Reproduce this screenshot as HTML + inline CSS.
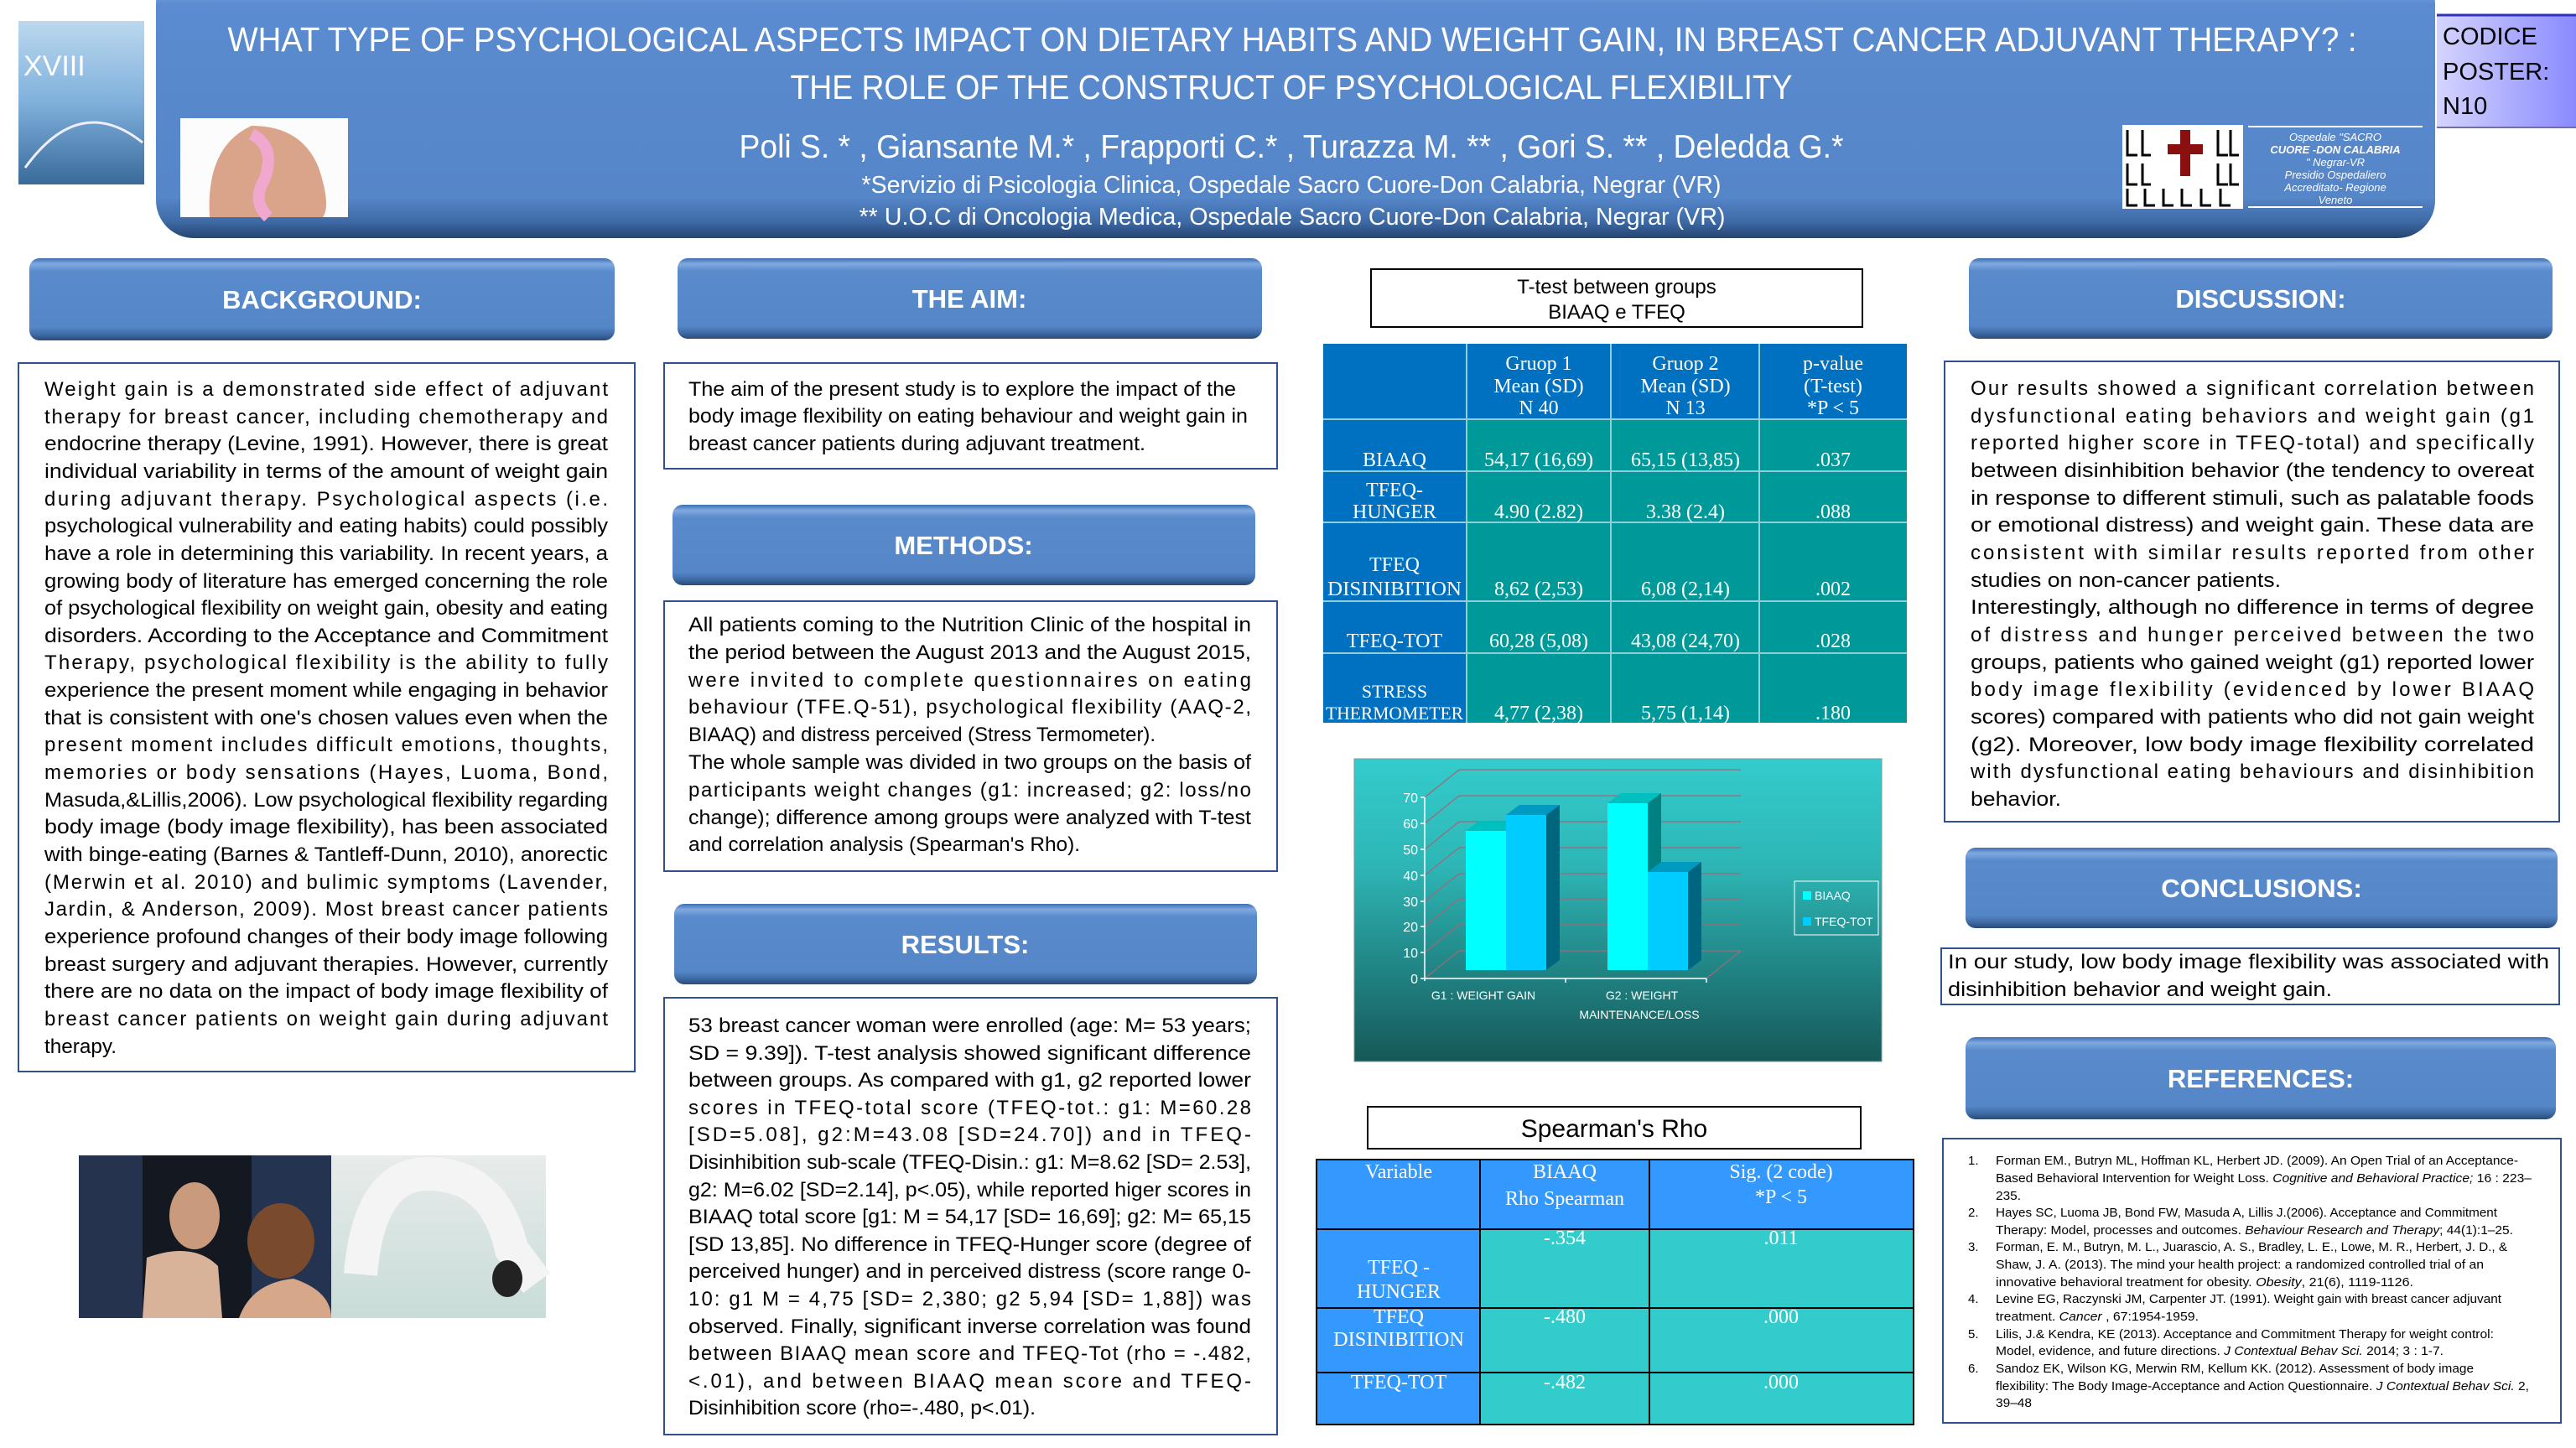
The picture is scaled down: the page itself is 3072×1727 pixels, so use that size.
<!DOCTYPE html>
<html><head><meta charset="utf-8"><style>
html,body{margin:0;padding:0;background:#fff;}
svg{display:block;}
.b{font-family:"Liberation Sans",sans-serif;font-size:24px;fill:#000;}
.h{font-family:"Liberation Sans",sans-serif;font-size:31px;font-weight:bold;fill:#fff;text-anchor:middle;}
.t{font-family:"Liberation Serif",serif;font-size:24px;fill:#fff;text-anchor:middle;}
.r{font-family:"Liberation Sans",sans-serif;font-size:15px;fill:#000;}
.w{font-family:"Liberation Sans",sans-serif;fill:#fff;text-anchor:middle;}
</style></head><body>
<svg width="3072" height="1727" viewBox="0 0 3072 1727" xmlns="http://www.w3.org/2000/svg">
<defs>
<linearGradient id="hg" x1="0" y1="0" x2="0" y2="1">
<stop offset="0" stop-color="#3d6fb3"/><stop offset="0.06" stop-color="#8db6ec"/><stop offset="0.14" stop-color="#5b8bd0"/>
<stop offset="0.85" stop-color="#5586c8"/><stop offset="0.94" stop-color="#3e6aa6"/><stop offset="1" stop-color="#25456f"/></linearGradient>
<linearGradient id="sg" x1="0" y1="0" x2="0" y2="1">
<stop offset="0" stop-color="#3d6fb3"/><stop offset="0.07" stop-color="#80a9e0"/><stop offset="0.16" stop-color="#598bcc"/>
<stop offset="0.84" stop-color="#5586c8"/><stop offset="0.93" stop-color="#3f6aa4"/><stop offset="1" stop-color="#2a4a75"/></linearGradient>
<linearGradient id="cg" x1="0" y1="0" x2="0" y2="1">
<stop offset="0" stop-color="#33cccc"/><stop offset="0.35" stop-color="#2eb6b6"/><stop offset="1" stop-color="#165858"/></linearGradient>
<linearGradient id="pg" x1="0" y1="0" x2="1" y2="0">
<stop offset="0" stop-color="#d4d4ff"/><stop offset="1" stop-color="#8a8aff"/></linearGradient>
<linearGradient id="tg" x1="0" y1="0" x2="0" y2="1">
<stop offset="0" stop-color="#bcd8ef"/><stop offset="0.5" stop-color="#7fb0dc"/><stop offset="1" stop-color="#3a6a9a"/></linearGradient>
<linearGradient id="wg" x1="0" y1="0" x2="0" y2="1">
<stop offset="0" stop-color="#e8eceb"/><stop offset="1" stop-color="#c8dcd8"/></linearGradient>
</defs>

<rect x="186" y="-40" width="2718" height="324" rx="45" fill="url(#hg)"/>
<g class="w">
<text x="1541" y="61" font-size="41" textLength="2539" lengthAdjust="spacingAndGlyphs">WHAT TYPE OF PSYCHOLOGICAL ASPECTS IMPACT ON DIETARY HABITS AND WEIGHT GAIN, IN BREAST CANCER ADJUVANT THERAPY? :</text>
<text x="1540" y="118" font-size="41" textLength="1195" lengthAdjust="spacingAndGlyphs">THE ROLE OF THE CONSTRUCT OF PSYCHOLOGICAL FLEXIBILITY</text>
<text x="1540" y="188" font-size="39" textLength="1317" lengthAdjust="spacingAndGlyphs">Poli S. * , Giansante M.* , Frapporti C.* , Turazza M. ** , Gori S. ** , Deledda G.*</text>
<text x="1540" y="230" font-size="29" textLength="1025" lengthAdjust="spacingAndGlyphs">*Servizio di Psicologia Clinica, Ospedale Sacro Cuore-Don Calabria, Negrar (VR)</text>
<text x="1541" y="268" font-size="29" textLength="1033" lengthAdjust="spacingAndGlyphs">** U.O.C di Oncologia Medica, Ospedale Sacro Cuore-Don Calabria, Negrar (VR)</text>
</g>
<rect x="22" y="25" width="150" height="195" fill="url(#tg)"/>
<text x="28" y="90" font-family="Liberation Sans" font-size="34" fill="#fff">XVIII</text>
<path d="M30 200 Q95 110 170 170" stroke="#eef" stroke-width="3" fill="none"/>
<rect x="215" y="141" width="200" height="118" fill="#fdfcfc"/>
<path d="M250 259 Q245 175 300 150 Q360 150 380 200 Q395 245 385 259 Z" fill="#d9a48a"/>
<path d="M300 160 Q330 175 315 215 Q300 240 320 259" stroke="#f0a8cf" stroke-width="14" fill="none"/>
<rect x="2531" y="149" width="144" height="100" fill="#fff"/>
<g stroke="#000" stroke-width="3" fill="none">
<path d="M2537 155v30h12M2555 155v30h10M2645 155v30h12M2660 155v30h10M2537 195v25h12M2555 195v25h10M2645 195v25h12M2660 195v25h10M2537 225v20h12M2558 225v20h12M2580 225v20h12M2602 225v20h12M2625 225v20h12M2648 225v20h12"/>
</g>
<rect x="2600" y="155" width="12" height="55" fill="#8a1010"/><rect x="2585" y="172" width="42" height="12" fill="#8a1010"/>
<line x1="2681" y1="151" x2="2889" y2="151" stroke="#fff" stroke-width="2"/>
<line x1="2681" y1="247" x2="2889" y2="247" stroke="#fff" stroke-width="2"/>
<g class="w" font-size="13" font-style="italic">
<text x="2785" y="152"><tspan x="2785" dy="16">Ospedale   "SACRO</tspan><tspan x="2785" dy="15" font-weight="bold">CUORE -DON CALABRIA</tspan><tspan x="2785" dy="15">" Negrar-VR</tspan><tspan x="2785" dy="15">Presidio Ospedaliero</tspan><tspan x="2785" dy="15">Accreditato- Regione</tspan><tspan x="2785" dy="15">Veneto</tspan></text>
</g>
<rect x="2906" y="18" width="166" height="134" fill="url(#pg)"/>
<line x1="2906" y1="18" x2="3072" y2="18" stroke="#3030c0" stroke-width="3"/>
<line x1="2906" y1="152" x2="3072" y2="152" stroke="#7070a0" stroke-width="2"/>
<g font-family="Liberation Sans" font-size="29" fill="#000">
<text x="2913" y="53">CODICE</text><text x="2913" y="95">POSTER:</text><text x="2913" y="136">N10</text>
</g>

<g>
<rect x="35" y="308" width="698" height="98" rx="12" fill="url(#sg)"/>
<rect x="808" y="308" width="697" height="96" rx="12" fill="url(#sg)"/>
<rect x="802" y="602" width="695" height="96" rx="12" fill="url(#sg)"/>
<rect x="804" y="1078" width="695" height="96" rx="12" fill="url(#sg)"/>
<rect x="2348" y="308" width="696" height="96" rx="12" fill="url(#sg)"/>
<rect x="2344" y="1011" width="706" height="96" rx="12" fill="url(#sg)"/>
<rect x="2344" y="1237" width="704" height="98" rx="12" fill="url(#sg)"/>
</g>
<text class="h" x="384" y="368">BACKGROUND:</text>
<text class="h" x="1156" y="367">THE AIM:</text>
<text class="h" x="1149" y="661">METHODS:</text>
<text class="h" x="1151" y="1137">RESULTS:</text>
<text class="h" x="2696" y="367">DISCUSSION:</text>
<text class="h" x="2697" y="1070">CONCLUSIONS:</text>
<text class="h" x="2696" y="1297">REFERENCES:</text>

<g fill="none" stroke="#2f528f" stroke-width="2">
<rect x="22" y="433" width="735" height="845"/>
<rect x="792" y="433" width="731" height="126"/>
<rect x="792" y="717" width="731" height="322"/>
<rect x="792" y="1190" width="731" height="521"/>
<rect x="2319" y="431" width="733" height="549"/>
<rect x="2315" y="1131" width="737" height="67"/>
<rect x="2317" y="1358" width="737" height="339"/>
</g>

<g class="b">
<text x="53" y="472" textLength="672" lengthAdjust="spacing">Weight gain is a demonstrated side effect of adjuvant</text>
<text x="53" y="505" textLength="672" lengthAdjust="spacing">therapy for breast cancer, including chemotherapy and</text>
<text x="53" y="537" textLength="672" lengthAdjust="spacingAndGlyphs">endocrine therapy (Levine, 1991). However, there is great</text>
<text x="53" y="570" textLength="672" lengthAdjust="spacingAndGlyphs">individual variability in terms of the amount of weight gain</text>
<text x="53" y="603" textLength="672" lengthAdjust="spacing">during adjuvant therapy. Psychological aspects (i.e.</text>
<text x="53" y="635" textLength="672" lengthAdjust="spacingAndGlyphs">psychological vulnerability and eating habits) could possibly</text>
<text x="53" y="668" textLength="672" lengthAdjust="spacingAndGlyphs">have a role in determining this variability. In recent years, a</text>
<text x="53" y="701" textLength="672" lengthAdjust="spacingAndGlyphs">growing body of literature has emerged concerning the role</text>
<text x="53" y="733" textLength="672" lengthAdjust="spacingAndGlyphs">of psychological flexibility on weight gain, obesity and eating</text>
<text x="53" y="766" textLength="672" lengthAdjust="spacingAndGlyphs">disorders. According to the Acceptance and Commitment</text>
<text x="53" y="798" textLength="672" lengthAdjust="spacing">Therapy, psychological flexibility is the ability to fully</text>
<text x="53" y="831" textLength="672" lengthAdjust="spacingAndGlyphs">experience the present moment while engaging in behavior</text>
<text x="53" y="864" textLength="672" lengthAdjust="spacingAndGlyphs">that is consistent with one's chosen values even when the</text>
<text x="53" y="896" textLength="672" lengthAdjust="spacing">present moment includes difficult emotions, thoughts,</text>
<text x="53" y="929" textLength="672" lengthAdjust="spacing">memories or body sensations (Hayes, Luoma, Bond,</text>
<text x="53" y="962" textLength="672" lengthAdjust="spacingAndGlyphs">Masuda,&amp;Lillis,2006). Low psychological flexibility regarding</text>
<text x="53" y="994" textLength="672" lengthAdjust="spacingAndGlyphs">body image (body image flexibility),  has been associated</text>
<text x="53" y="1027" textLength="672" lengthAdjust="spacingAndGlyphs">with binge-eating (Barnes &amp; Tantleff-Dunn, 2010), anorectic</text>
<text x="53" y="1060" textLength="672" lengthAdjust="spacing">(Merwin et al. 2010) and bulimic symptoms (Lavender,</text>
<text x="53" y="1092" textLength="672" lengthAdjust="spacing">Jardin, &amp; Anderson, 2009). Most breast cancer patients</text>
<text x="53" y="1125" textLength="672" lengthAdjust="spacingAndGlyphs">experience profound changes of their body image following</text>
<text x="53" y="1158" textLength="672" lengthAdjust="spacingAndGlyphs">breast surgery and adjuvant therapies. However, currently</text>
<text x="53" y="1190" textLength="672" lengthAdjust="spacingAndGlyphs">there are no data on the impact of body image flexibility of</text>
<text x="53" y="1223" textLength="672" lengthAdjust="spacing">breast cancer patients on weight gain during adjuvant</text>
<text x="53" y="1256" textLength="86" lengthAdjust="spacingAndGlyphs">therapy.</text>
</g>

<g class="b">
<text x="821" y="472" textLength="653" lengthAdjust="spacingAndGlyphs">The aim of the present study is to explore the impact of the</text>
<text x="821" y="504" textLength="667" lengthAdjust="spacingAndGlyphs">body image flexibility on eating behaviour and weight gain in</text>
<text x="821" y="537" textLength="545" lengthAdjust="spacingAndGlyphs">breast cancer patients during adjuvant treatment.</text>
</g>

<g class="b">
<text x="821" y="753" textLength="671" lengthAdjust="spacingAndGlyphs">All patients coming to the Nutrition Clinic of the hospital in</text>
<text x="821" y="786" textLength="671" lengthAdjust="spacingAndGlyphs">the period between the August 2013 and the August 2015,</text>
<text x="821" y="819" textLength="671" lengthAdjust="spacing">were invited to complete questionnaires on eating</text>
<text x="821" y="851" textLength="671" lengthAdjust="spacing">behaviour (TFE.Q-51), psychological flexibility  (AAQ-2,</text>
<text x="821" y="884" textLength="557" lengthAdjust="spacingAndGlyphs">BIAAQ) and distress perceived (Stress Termometer).</text>
<text x="821" y="917" textLength="671" lengthAdjust="spacingAndGlyphs">The whole sample was divided in two groups on the basis of</text>
<text x="821" y="950" textLength="671" lengthAdjust="spacing">participants weight changes (g1: increased; g2: loss/no</text>
<text x="821" y="983" textLength="671" lengthAdjust="spacingAndGlyphs">change); difference among groups were analyzed with T-test</text>
<text x="821" y="1015" textLength="467" lengthAdjust="spacingAndGlyphs">and correlation analysis (Spearman's Rho).</text>
</g>

<g class="b">
<text x="821" y="1231" textLength="671" lengthAdjust="spacingAndGlyphs">53 breast cancer woman were enrolled (age: M= 53 years;</text>
<text x="821" y="1264" textLength="671" lengthAdjust="spacingAndGlyphs">SD = 9.39]). T-test analysis showed significant difference</text>
<text x="821" y="1296" textLength="671" lengthAdjust="spacingAndGlyphs">between groups. As compared with g1, g2 reported lower</text>
<text x="821" y="1329" textLength="671" lengthAdjust="spacing">scores in TFEQ-total score (TFEQ-tot.: g1: M=60.28</text>
<text x="821" y="1361" textLength="671" lengthAdjust="spacing">[SD=5.08], g2:M=43.08 [SD=24.70]) and in TFEQ-</text>
<text x="821" y="1394" textLength="671" lengthAdjust="spacingAndGlyphs">Disinhibition sub-scale (TFEQ-Disin.: g1: M=8.62 [SD= 2.53],</text>
<text x="821" y="1427" textLength="671" lengthAdjust="spacingAndGlyphs">g2: M=6.02 [SD=2.14], p&lt;.05), while reported higer scores in</text>
<text x="821" y="1459" textLength="671" lengthAdjust="spacingAndGlyphs">BIAAQ total score [g1: M = 54,17 [SD= 16,69]; g2: M= 65,15</text>
<text x="821" y="1492" textLength="671" lengthAdjust="spacingAndGlyphs">[SD 13,85]. No difference in TFEQ-Hunger score (degree of</text>
<text x="821" y="1524" textLength="671" lengthAdjust="spacingAndGlyphs">perceived hunger) and in perceived distress (score range 0-</text>
<text x="821" y="1557" textLength="671" lengthAdjust="spacing">10: g1 M = 4,75 [SD= 2,380; g2 5,94 [SD= 1,88]) was</text>
<text x="821" y="1590" textLength="671" lengthAdjust="spacingAndGlyphs">observed. Finally, significant inverse correlation was found</text>
<text x="821" y="1622" textLength="671" lengthAdjust="spacing">between BIAAQ mean score and TFEQ-Tot (rho = -.482,</text>
<text x="821" y="1655" textLength="671" lengthAdjust="spacing">&lt;.01), and between  BIAAQ mean score and TFEQ-</text>
<text x="821" y="1687" textLength="414" lengthAdjust="spacingAndGlyphs">Disinhibition score (rho=-.480, p&lt;.01).</text>
</g>

<rect x="94" y="1378" width="76" height="194" fill="#25334f"/>
<rect x="170" y="1378" width="225" height="194" fill="#141820"/>
<rect x="300" y="1378" width="95" height="194" fill="#243350"/>
<ellipse cx="232" cy="1450" rx="30" ry="40" fill="#c99a7c"/>
<path d="M170 1572 L175 1500 Q230 1480 260 1510 L265 1572 Z" fill="#d8b39a"/>
<ellipse cx="335" cy="1480" rx="40" ry="45" fill="#7a4a2c"/>
<path d="M285 1572 Q300 1530 350 1525 Q395 1540 395 1572 Z" fill="#d6a789"/>
<rect x="395" y="1378" width="256" height="194" fill="url(#wg)"/>
<path d="M430 1520 Q440 1400 510 1400 Q590 1400 610 1490 L640 1530" stroke="#f4f4f4" stroke-width="40" fill="none"/>
<ellipse cx="605" cy="1525" rx="18" ry="22" fill="#222"/>

<rect x="1635" y="321" width="586" height="69" fill="#fff" stroke="#000" stroke-width="2"/>
<g font-family="Liberation Sans" font-size="24" fill="#000" text-anchor="middle">
<text x="1928" y="350">T-test between groups</text><text x="1928" y="380">BIAAQ e TFEQ</text>
</g>
<rect x="1578" y="410" width="696" height="452" fill="#009999"/>
<rect x="1578" y="410" width="696" height="90" fill="#0070c0"/>
<rect x="1578" y="410" width="171" height="452" fill="#0070c0"/>
<g stroke="#8fd0d8" stroke-width="2">
<line x1="1749" y1="410" x2="1749" y2="862"/><line x1="1921" y1="410" x2="1921" y2="862"/><line x1="2098" y1="410" x2="2098" y2="862"/>
<line x1="1578" y1="500" x2="2274" y2="500"/><line x1="1578" y1="562" x2="2274" y2="562"/><line x1="1578" y1="623" x2="2274" y2="623"/><line x1="1578" y1="717" x2="2274" y2="717"/><line x1="1578" y1="779" x2="2274" y2="779"/>
</g>
<g class="t">
<text x="1835" y="441">Gruop 1</text><text x="1835" y="468">Mean (SD)</text><text x="1835" y="494">N 40</text>
<text x="2010" y="441">Gruop 2</text><text x="2010" y="468">Mean (SD)</text><text x="2010" y="494">N 13</text>
<text x="2186" y="441">p-value</text><text x="2186" y="468">(T-test)</text><text x="2186" y="494">*P &lt; 5</text>
<text x="1663" y="556">BIAAQ</text><text x="1835" y="556">54,17 (16,69)</text><text x="2010" y="556">65,15 (13,85)</text><text x="2186" y="556">.037</text>
<text x="1663" y="592">TFEQ-</text><text x="1663" y="618">HUNGER</text><text x="1835" y="618">4.90 (2.82)</text><text x="2010" y="618">3.38 (2.4)</text><text x="2186" y="618">.088</text>
<text x="1663" y="681">TFEQ</text><text x="1663" y="710" textLength="160" lengthAdjust="spacingAndGlyphs">DISINIBITION</text><text x="1835" y="710">8,62 (2,53)</text><text x="2010" y="710">6,08 (2,14)</text><text x="2186" y="710">.002</text>
<text x="1663" y="772">TFEQ-TOT</text><text x="1835" y="772">60,28 (5,08)</text><text x="2010" y="772">43,08 (24,70)</text><text x="2186" y="772">.028</text>
<text x="1663" y="832" font-size="22">STRESS</text><text x="1663" y="858" font-size="22" textLength="164" lengthAdjust="spacingAndGlyphs">THERMOMETER</text><text x="1835" y="858">4,77 (2,38)</text><text x="2010" y="858">5,75 (1,14)</text><text x="2186" y="858">.180</text>
</g>

<rect x="1615" y="905" width="629" height="361" fill="url(#cg)" stroke="#7a9a9a" stroke-width="1"/>
<g stroke="#a06878" stroke-width="1.2" fill="none">
<line x1="1740" y1="1134" x2="2076" y2="1134"/><line x1="1740" y1="1103" x2="2076" y2="1103"/><line x1="1740" y1="1072" x2="2076" y2="1072"/><line x1="1740" y1="1042" x2="2076" y2="1042"/><line x1="1740" y1="1011" x2="2076" y2="1011"/><line x1="1740" y1="980" x2="2076" y2="980"/><line x1="1740" y1="949" x2="2076" y2="949"/><line x1="1740" y1="918" x2="2076" y2="918"/>
<line x1="1699" y1="1167" x2="1740" y2="1134"/><line x1="1699" y1="1136" x2="1740" y2="1103"/><line x1="1699" y1="1105" x2="1740" y2="1072"/><line x1="1699" y1="1075" x2="1740" y2="1042"/><line x1="1699" y1="1044" x2="1740" y2="1011"/><line x1="1699" y1="1013" x2="1740" y2="980"/><line x1="1699" y1="982" x2="1740" y2="949"/><line x1="1699" y1="951" x2="1740" y2="918"/>
<line x1="2035" y1="1167" x2="2076" y2="1134"/>
</g>
<g stroke="#fff" stroke-width="1.5">
<line x1="1699" y1="951" x2="1699" y2="1170"/><line x1="1699" y1="1167" x2="2035" y2="1167"/>
<line x1="1867" y1="1167" x2="1867" y2="1172"/><line x1="2035" y1="1167" x2="2035" y2="1172"/>
<line x1="1694" y1="1167" x2="1699" y2="1167"/><line x1="1694" y1="1136" x2="1699" y2="1136"/><line x1="1694" y1="1105" x2="1699" y2="1105"/><line x1="1694" y1="1075" x2="1699" y2="1075"/><line x1="1694" y1="1044" x2="1699" y2="1044"/><line x1="1694" y1="1013" x2="1699" y2="1013"/><line x1="1694" y1="982" x2="1699" y2="982"/><line x1="1694" y1="951" x2="1699" y2="951"/>
</g>
<polygon points="1748,991 1764,979 1812,979 1796,991" fill="#00bfbf"/>
<rect x="1748" y="991" width="48" height="166" fill="#00ffff"/>
<polygon points="1796,972 1812,960 1860,960 1844,972" fill="#0099c0"/>
<polygon points="1844,972 1860,960 1860,1145 1844,1157" fill="#006680"/>
<rect x="1796" y="972" width="48" height="185" fill="#00ccff"/>
<polygon points="1917,958 1933,946 1981,946 1965,958" fill="#00bfbf"/>
<polygon points="1965,958 1981,946 1981,1145 1965,1157" fill="#008080"/>
<rect x="1917" y="958" width="48" height="199" fill="#00ffff"/>
<polygon points="1965,1040 1981,1028 2029,1028 2013,1040" fill="#0099c0"/>
<polygon points="2013,1040 2029,1028 2029,1145 2013,1157" fill="#006680"/>
<rect x="1965" y="1040" width="48" height="117" fill="#00ccff"/>
<g font-family="Liberation Sans" font-size="16" fill="#fff" text-anchor="end">
<text x="1691" y="1173">0</text><text x="1691" y="1142">10</text><text x="1691" y="1111">20</text><text x="1691" y="1081">30</text><text x="1691" y="1050">40</text><text x="1691" y="1019">50</text><text x="1691" y="988">60</text><text x="1691" y="957">70</text>
</g>
<g font-family="Liberation Sans" font-size="14" fill="#fff" text-anchor="middle">
<text x="1769" y="1192">G1 : WEIGHT GAIN</text>
<text x="1958" y="1192">G2 : WEIGHT</text><text x="1955" y="1215">MAINTENANCE/LOSS</text>
</g>
<rect x="2140" y="1051" width="100" height="64" fill="none" stroke="#fff" stroke-width="1"/>
<rect x="2150" y="1063" width="10" height="10" fill="#00ffff"/><rect x="2150" y="1094" width="10" height="10" fill="#00ccff"/>
<g font-family="Liberation Sans" font-size="14" fill="#fff"><text x="2164" y="1073">BIAAQ</text><text x="2164" y="1104">TFEQ-TOT</text></g>

<rect x="1631" y="1320" width="588" height="50" fill="#fff" stroke="#000" stroke-width="2"/>
<text x="1925" y="1356" font-family="Liberation Sans" font-size="30" text-anchor="middle" fill="#000">Spearman's Rho</text>
<rect x="1570" y="1383" width="712" height="316" fill="#33cccc"/>
<rect x="1570" y="1383" width="712" height="83" fill="#3399ff"/>
<rect x="1570" y="1383" width="195" height="316" fill="#3399ff"/>
<g stroke="#000" stroke-width="2" fill="none">
<rect x="1570" y="1383" width="712" height="316"/>
<line x1="1765" y1="1383" x2="1765" y2="1699"/><line x1="1967" y1="1383" x2="1967" y2="1699"/>
<line x1="1570" y1="1466" x2="2282" y2="1466"/><line x1="1570" y1="1560" x2="2282" y2="1560"/><line x1="1570" y1="1637" x2="2282" y2="1637"/>
</g>
<g class="t">
<text x="1668" y="1405">Variable</text>
<text x="1866" y="1405">BIAAQ</text><text x="1866" y="1437">Rho Spearman</text>
<text x="2124" y="1405">Sig. (2 code)</text><text x="2124" y="1435">*P &lt; 5</text>
<text x="1866" y="1484">-.354</text><text x="2124" y="1484">.011</text>
<text x="1668" y="1519">TFEQ -</text><text x="1668" y="1548">HUNGER</text>
<text x="1668" y="1578">TFEQ</text><text x="1668" y="1605" textLength="156" lengthAdjust="spacingAndGlyphs">DISINIBITION</text>
<text x="1866" y="1578">-.480</text><text x="2124" y="1578">.000</text>
<text x="1668" y="1656">TFEQ-TOT</text><text x="1866" y="1656">-.482</text><text x="2124" y="1656">.000</text>
</g>

<g class="b">
<text x="2350" y="471" textLength="672" lengthAdjust="spacing">Our results showed a significant correlation between</text>
<text x="2350" y="504" textLength="672" lengthAdjust="spacing">dysfunctional eating behaviors and weight gain (g1</text>
<text x="2350" y="536" textLength="672" lengthAdjust="spacing">reported higher score in TFEQ-total) and specifically</text>
<text x="2350" y="569" textLength="672" lengthAdjust="spacingAndGlyphs">between disinhibition behavior (the tendency to overeat</text>
<text x="2350" y="602" textLength="672" lengthAdjust="spacingAndGlyphs">in response to different stimuli, such as palatable foods</text>
<text x="2350" y="634" textLength="672" lengthAdjust="spacingAndGlyphs">or emotional distress) and weight gain. These data are</text>
<text x="2350" y="667" textLength="672" lengthAdjust="spacing">consistent with similar results reported from other</text>
<text x="2350" y="700" textLength="370" lengthAdjust="spacingAndGlyphs">studies on non-cancer patients.</text>
<text x="2350" y="732" textLength="672" lengthAdjust="spacingAndGlyphs">Interestingly, although no difference in terms of degree</text>
<text x="2350" y="765" textLength="672" lengthAdjust="spacing">of distress and hunger perceived between the two</text>
<text x="2350" y="798" textLength="672" lengthAdjust="spacingAndGlyphs">groups, patients who gained weight (g1) reported lower</text>
<text x="2350" y="830" textLength="672" lengthAdjust="spacing">body image flexibility (evidenced by lower BIAAQ</text>
<text x="2350" y="863" textLength="672" lengthAdjust="spacingAndGlyphs">scores) compared with patients who did not gain weight</text>
<text x="2350" y="896" textLength="672" lengthAdjust="spacingAndGlyphs">(g2). Moreover, low body image flexibility correlated</text>
<text x="2350" y="928" textLength="672" lengthAdjust="spacing">with dysfunctional eating behaviours and disinhibition</text>
<text x="2350" y="961" textLength="108" lengthAdjust="spacingAndGlyphs">behavior.</text>
</g>
<g class="b">
<text x="2323" y="1155" textLength="717" lengthAdjust="spacingAndGlyphs">In our study, low body image flexibility was associated with</text>
<text x="2323" y="1188" textLength="458" lengthAdjust="spacingAndGlyphs">disinhibition behavior and weight gain.</text>
</g>

<g class="r">
<text x="2347" y="1389">1.</text>
<text x="2380" y="1389" textLength="623" lengthAdjust="spacingAndGlyphs">Forman EM., Butryn ML, Hoffman KL, Herbert JD. (2009). An Open Trial of an Acceptance-</text>
<text x="2380" y="1410" textLength="639" lengthAdjust="spacingAndGlyphs">Based Behavioral Intervention for Weight Loss. <tspan font-style="italic">Cognitive and Behavioral Practice;</tspan> 16 : 223–</text>
<text x="2380" y="1431" textLength="30" lengthAdjust="spacingAndGlyphs">235.</text>
<text x="2347" y="1451">2.</text>
<text x="2380" y="1451" textLength="598" lengthAdjust="spacingAndGlyphs">Hayes SC, Luoma JB, Bond FW, Masuda A, Lillis J.(2006). Acceptance and Commitment</text>
<text x="2380" y="1472" textLength="617" lengthAdjust="spacingAndGlyphs">Therapy: Model, processes and outcomes. <tspan font-style="italic">Behaviour Research and Therapy</tspan>; 44(1):1–25.</text>
<text x="2347" y="1492">3.</text>
<text x="2380" y="1492" textLength="610" lengthAdjust="spacingAndGlyphs">Forman, E. M., Butryn, M. L., Juarascio, A. S., Bradley, L. E., Lowe, M. R., Herbert, J. D., &amp;</text>
<text x="2380" y="1513" textLength="582" lengthAdjust="spacingAndGlyphs">Shaw, J. A. (2013). The mind your health project: a randomized controlled trial of an</text>
<text x="2380" y="1534" textLength="498" lengthAdjust="spacingAndGlyphs">innovative behavioral treatment for obesity. <tspan font-style="italic">Obesity</tspan>, 21(6), 1119-1126.</text>
<text x="2347" y="1554">4.</text>
<text x="2380" y="1554" textLength="603" lengthAdjust="spacingAndGlyphs">Levine EG, Raczynski JM, Carpenter JT. (1991). Weight gain with breast cancer adjuvant</text>
<text x="2380" y="1575" textLength="242" lengthAdjust="spacingAndGlyphs">treatment. <tspan font-style="italic">Cancer</tspan> , 67:1954-1959.</text>
<text x="2347" y="1596">5.</text>
<text x="2380" y="1596" textLength="594" lengthAdjust="spacingAndGlyphs">Lilis, J.&amp; Kendra, KE (2013). Acceptance and Commitment Therapy for weight control:</text>
<text x="2380" y="1616" textLength="534" lengthAdjust="spacingAndGlyphs">Model, evidence, and future directions. <tspan font-style="italic">J Contextual Behav Sci.</tspan> 2014; 3 : 1-7.</text>
<text x="2347" y="1637">6.</text>
<text x="2380" y="1637" textLength="570" lengthAdjust="spacingAndGlyphs">Sandoz EK,  Wilson KG, Merwin RM, Kellum KK. (2012). Assessment of body image</text>
<text x="2380" y="1658" textLength="636" lengthAdjust="spacingAndGlyphs">flexibility: The Body Image-Acceptance  and Action Questionnaire.  <tspan font-style="italic">J Contextual Behav Sci.</tspan> 2,</text>
<text x="2380" y="1678" textLength="43" lengthAdjust="spacingAndGlyphs">39–48</text>
</g>
</svg>
</body></html>
